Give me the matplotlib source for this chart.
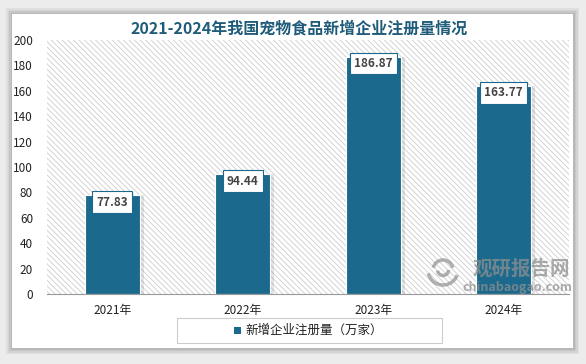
import matplotlib
matplotlib.use("Agg")
import matplotlib.pyplot as plt
from matplotlib.patches import Rectangle, Arc

plt.rcParams["font.family"] = ["Noto Sans CJK SC", "DejaVu Sans"]
plt.rcParams["hatch.linewidth"] = 0.6
plt.rcParams["hatch.color"] = "#cdcdcd"

# -- Data ---------------------------------------------------------------------
years = ["2021年", "2022年", "2023年", "2024年"]
values = [77.83, 94.44, 186.87, 163.77]
y_ticks = [0, 20, 40, 60, 80, 100, 120, 140, 160, 180, 200]

TITLE = "2021-2024年我国宠物食品新增企业注册量情况"
LEGEND = "新增企业注册量（万家）"

C_BAR = "#1b6a8d"
C_TITLE = "#1f5c7a"
C_TEXT = "#222222"
C_LABEL = "#444444"
C_MARK = "#8f8f8f"

W, H = 586, 364
fig = plt.figure(figsize=(W / 100, H / 100), dpi=100, facecolor="#ececec")

# -- white card with soft shadow ------------------------------------------------
for i, a in enumerate([0.05, 0.05, 0.06, 0.07]):
    d = (4 - i) * 1.5
    fig.patches.append(Rectangle(((12 - d) / W, (16 - d) / H),
                                 (561 + 2 * d) / W, (334 + 2 * d) / H,
                                 transform=fig.transFigure, facecolor="black",
                                 alpha=a, edgecolor="none", zorder=0))
fig.patches.append(Rectangle((12 / W, 16 / H), 561 / W, 334 / H,
                             transform=fig.transFigure, facecolor="white",
                             edgecolor="none", zorder=1))

ax = fig.add_axes([47 / W, 70 / H, 522 / W, 254 / H])
ax.set_facecolor("white")
ax.patch.set_alpha(0)
ax.set_zorder(2)

# hatched plot background
ax.add_patch(Rectangle((0, 0), 1, 1, transform=ax.transAxes,
                       facecolor="white", edgecolor="#cdcdcd", linewidth=0,
                       hatch="\\\\\\\\\\\\", zorder=0))

x = range(len(years))
# bar shadows
ax.bar([i + 0.02 for i in x], values, width=0.44, color="#000000",
       alpha=0.10, zorder=1)
ax.bar(x, values, width=0.42, color=C_BAR, edgecolor="white",
       linewidth=0.8, zorder=2)

for i, v in zip(x, values):
    ax.annotate(f"{v:.2f}", (i, v), xytext=(0, -5), textcoords="offset points",
                ha="center", va="center", fontsize=8.5, fontweight="bold",
                color=C_LABEL, zorder=4,
                bbox=dict(boxstyle="square,pad=0.35", facecolor="white",
                          edgecolor=C_BAR, linewidth=0.8))

ax.set_xlim(-0.5, 3.5)
ax.set_ylim(0, 200)
ax.set_yticks(y_ticks)
ax.set_xticks(list(x))
ax.set_xticklabels(years)
ax.tick_params(axis="both", length=0, labelsize=8.5, colors=C_TEXT)
ax.tick_params(axis="y", pad=10)
ax.tick_params(axis="x", pad=7)
for s in ["top", "right", "left"]:
    ax.spines[s].set_visible(False)
ax.spines["bottom"].set_color("#999999")
ax.spines["bottom"].set_linewidth(0.8)

fig.text(299 / W, 1 - 28 / H, TITLE, ha="center", va="center",
         fontsize=11.5, fontweight="bold", color=C_TITLE, zorder=5)

# legend box
fig.patches.append(Rectangle((177 / W, (364 - 343) / H), 265 / W, 25 / H,
                             transform=fig.transFigure, facecolor="white",
                             edgecolor="#cccccc", linewidth=0.8, zorder=3))
fig.patches.append(Rectangle((234 / W, (364 - 333.5) / H), 7 / W, 7 / H,
                             transform=fig.transFigure, facecolor=C_BAR,
                             edgecolor="none", zorder=4))
fig.text(245 / W, 1 - 330 / H, LEGEND, ha="left", va="center",
         fontsize=9, color=C_TEXT, zorder=5)

# watermark (logo swirl + text)
for r, t1, t2 in [(30, 200, 330), (20, 20, 160), (11, 190, 360)]:
    fig.patches.append(Arc((443 / W, 1 - 270 / H), r / W, r / H,
                           theta1=t1, theta2=t2, transform=fig.transFigure,
                           color=C_MARK, alpha=0.7, linewidth=2.5, zorder=6))
fig.text(521 / W, 1 - 269 / H, "观研报告网", ha="center", va="center",
         fontsize=14, fontweight="bold", color=C_MARK, alpha=0.75, zorder=6)
fig.text(517 / W, 1 - 287 / H, "chinabaogao.com", ha="center", va="center",
         fontsize=9, fontweight="bold", color=C_MARK, alpha=0.75, zorder=6)

fig.savefig("out.png", dpi=100, facecolor=fig.get_facecolor())
